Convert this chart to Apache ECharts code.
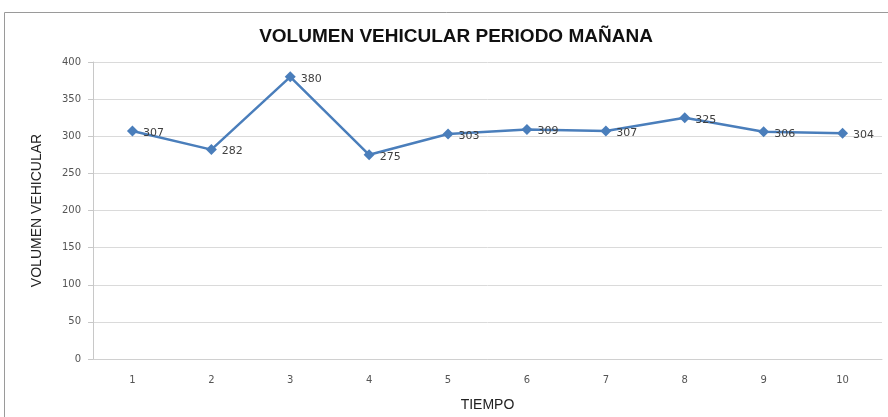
<!DOCTYPE html>
<html>
<head>
<meta charset="utf-8">
<script src="https://cdn.jsdelivr.net/npm/echarts@6/dist/echarts.min.js"></script>
<style>
  html, body { margin: 0; padding: 0; background: #fff; }
  #chart { width: 888px; height: 417px; }
</style>
</head>
<body>
<div id="chart"></div>
<script>
  // datos
  const categories = ["1", "2", "3", "4", "5", "6", "7", "8", "9", "10"];
  const volumen = [307, 282, 380, 275, 303, 309, 307, 325, 306, 304];
  const yTicks = [0, 50, 100, 150, 200, 250, 300, 350, 400];

  const chart = echarts.init(document.getElementById("chart"));

  const option = {
    animation: false,
    backgroundColor: "#ffffff",
    graphic: [
      {
        type: "rect",
        shape: { x: 4.5, y: 12.5, width: 900, height: 420 },
        style: { fill: "none", stroke: "#9a9a9a", lineWidth: 1 },
        silent: true,
      },
    ],
    title: {
      text: "VOLUMEN VEHICULAR PERIODO MAÑANA",
      left: 451,
      top: 22,
      textAlign: "center",
      textStyle: {
        fontFamily: "Liberation Sans",
        fontWeight: "bold",
        fontSize: 19,
        color: "#111",
      },
    },
    grid: { left: 93, right: 6, top: 62, bottom: 58, outerBoundsMode: "none" },
    xAxis: {
      type: "category",
      data: categories,
      boundaryGap: true,
      name: "TIEMPO",
      nameLocation: "middle",
      nameGap: 39,
      nameTextStyle: { fontFamily: "Liberation Sans", fontSize: 14, color: "#222" },
      axisLine: { show: true, lineStyle: { color: "#d0d0d0", width: 1 } },
      axisTick: { show: false },
      axisLabel: {
        margin: 16,
        fontFamily: "DejaVu Sans",
        fontSize: 10,
        color: "#555",
      },
    },
    yAxis: {
      type: "value",
      min: yTicks[0],
      max: yTicks[yTicks.length - 1],
      interval: 50,
      name: "VOLUMEN VEHICULAR",
      nameLocation: "middle",
      nameGap: 49,
      nameRotate: 90,
      nameTextStyle: { fontFamily: "Liberation Sans", fontSize: 14, color: "#222" },
      axisLine: { show: true, lineStyle: { color: "#c8c8c8", width: 1 } },
      axisTick: { show: true, length: 5, lineStyle: { color: "#c8c8c8" } },
      axisLabel: {
        margin: 12,
        fontFamily: "DejaVu Sans",
        fontSize: 10,
        color: "#555",
      },
      splitLine: { show: true, lineStyle: { color: "#dadada", width: 1 } },
    },
    series: [
      {
        type: "line",
        data: volumen,
        symbol: "diamond",
        symbolSize: 11,
        lineStyle: { color: "#4a7ebb", width: 2.5 },
        itemStyle: { color: "#4a7ebb" },
        label: {
          show: true,
          position: "right",
          distance: 5,
          offset: [0, 2],
          fontFamily: "DejaVu Sans",
          fontSize: 11,
          color: "#404040",
        },
      },
    ],
  };

  chart.setOption(option);
</script>
</body>
</html>
